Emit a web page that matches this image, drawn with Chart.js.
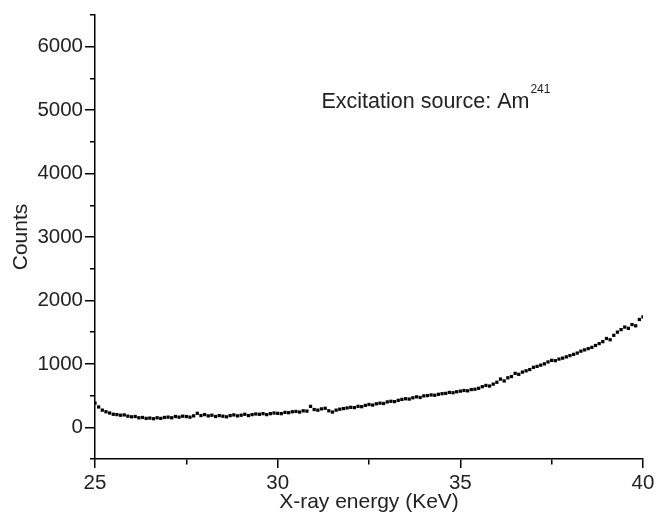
<!DOCTYPE html>
<html>
<head>
<meta charset="utf-8">
<script src="https://cdn.jsdelivr.net/npm/chart.js@4/dist/chart.umd.min.js"></script>
<style>
    html, body { margin: 0; padding: 0; background: #fff; }
    #wrap { width: 658px; height: 515px; }
</style>
</head>
<body>
<div id="wrap"><canvas id="SpectrumChart"></canvas></div>
<script>
// energy grid in keV, 0.1 keV per channel
const energies = [
    25.0, 25.1, 25.2, 25.3, 25.4, 25.5, 25.6, 25.7, 25.8, 25.9,
    26.0, 26.1, 26.2, 26.3, 26.4, 26.5, 26.6, 26.7, 26.8, 26.9,
    27.0, 27.1, 27.2, 27.3, 27.4, 27.5, 27.6, 27.7, 27.8, 27.9,
    28.0, 28.1, 28.2, 28.3, 28.4, 28.5, 28.6, 28.7, 28.8, 28.9,
    29.0, 29.1, 29.2, 29.3, 29.4, 29.5, 29.6, 29.7, 29.8, 29.9,
    30.0, 30.1, 30.2, 30.3, 30.4, 30.5, 30.6, 30.7, 30.8, 30.9,
    31.0, 31.1, 31.2, 31.3, 31.4, 31.5, 31.6, 31.7, 31.8, 31.9,
    32.0, 32.1, 32.2, 32.3, 32.4, 32.5, 32.6, 32.7, 32.8, 32.9,
    33.0, 33.1, 33.2, 33.3, 33.4, 33.5, 33.6, 33.7, 33.8, 33.9,
    34.0, 34.1, 34.2, 34.3, 34.4, 34.5, 34.6, 34.7, 34.8, 34.9,
    35.0, 35.1, 35.2, 35.3, 35.4, 35.5, 35.6, 35.7, 35.8, 35.9,
    36.0, 36.1, 36.2, 36.3, 36.4, 36.5, 36.6, 36.7, 36.8, 36.9,
    37.0, 37.1, 37.2, 37.3, 37.4, 37.5, 37.6, 37.7, 37.8, 37.9,
    38.0, 38.1, 38.2, 38.3, 38.4, 38.5, 38.6, 38.7, 38.8, 38.9,
    39.0, 39.1, 39.2, 39.3, 39.4, 39.5, 39.6, 39.7, 39.8, 39.9,
    40.0
];
const counts = [
    380, 320, 270, 245, 225, 205, 200, 190, 195, 175,
    165, 170, 150, 155, 140, 145, 135, 150, 140, 155,
    160, 150, 170, 160, 175, 170, 160, 180, 220, 185,
    200, 180, 190, 170, 185, 175, 165, 185, 195, 180,
    190, 205, 185, 200, 210, 205, 215, 200, 215, 225,
    220, 215, 235, 230, 245, 250, 240, 260, 255, 330,
    280, 270, 290, 300, 260, 240, 270, 285, 295, 305,
    315, 310, 330, 325, 345, 360, 350, 370, 380, 375,
    400, 410, 405, 425, 440, 450, 445, 465, 480, 470,
    495, 500, 510, 505, 520, 530, 535, 550, 545, 560,
    570, 580, 575, 595, 600, 615, 640, 660, 650, 680,
    710, 760, 730, 780, 800, 850, 835, 870, 890, 910,
    945, 960, 980, 1000, 1030, 1055, 1050, 1075, 1090, 1110,
    1130, 1150, 1170, 1200, 1220, 1240, 1260, 1290, 1320, 1350,
    1400, 1380, 1450, 1500, 1540, 1580, 1560, 1620, 1600, 1700,
    1740
];
const xTickLabels = [25, 30, 35, 40];
const yTickLabels = [0, 1000, 2000, 3000, 4000, 5000, 6000];
const noteText = "Excitation source: Am";
const noteSup = "241";

const FONT = "'Liberation Sans', Arial, Helvetica, sans-serif";

// text note in the upper part of the plot
const notePlugin = {
    id: 'note',
    afterDraw(chart) {
        const ctx = chart.ctx;
        const x = chart.scales.x.getPixelForValue(31.2);
        const y = chart.scales.y.getPixelForValue(5030);
        ctx.save();
        ctx.fillStyle = '#222';
        ctx.textBaseline = 'alphabetic';
        ctx.textAlign = 'left';
        ctx.font = "21.5px " + FONT;
        ctx.fillText(noteText, x, y);
        const w = ctx.measureText(noteText).width;
        ctx.font = "12px " + FONT;
        ctx.fillText(noteSup, x + w + 1, y - 15);
        ctx.restore();
    }
};

var ctx = document.getElementById('SpectrumChart');

var spectrumChart = new Chart(ctx, {
    type: 'scatter',
    data: {
        datasets: [{
            label: 'Counts',
            data: energies.map((e, i) => ({ x: e, y: counts[i] })),
            pointStyle: 'rect',
            pointRadius: 2.3,
            pointBorderWidth: 0,
            backgroundColor: '#000',
            borderColor: '#000',
        }]
    },
    options: {
        responsive: true,
        maintainAspectRatio: false,
        animation: false,
        layout: { padding: { top: 15, right: 15, left: 0, bottom: 0 } },
        plugins: {
            legend: { display: false },
            tooltip: { enabled: false },
        },
        scales: {
            x: {
                type: 'linear',
                min: 25,
                max: 40,
                afterFit: (scale) => { scale.height = 56; },
                afterBuildTicks: (scale) => {
                    const t = [];
                    for (let v = 25; v <= 40; v += 2.5) t.push({ value: v });
                    scale.ticks = t;
                },
                border: { display: true, color: '#000', width: 1.5 },
                grid: {
                    drawOnChartArea: false,
                    drawTicks: true,
                    tickLength: 9,
                    color: '#000',
                    lineWidth: 1.5,
                    tickBorderDash: (c) => xTickLabels.includes(c.tick.value) ? [] : [5, 100],
                },
                ticks: {
                    autoSkip: false,
                    maxRotation: 0,
                    padding: 3,
                    color: '#222',
                    font: { family: FONT, size: 20.5 },
                    callback: (v) => xTickLabels.includes(v) ? String(v) : '',
                },
                title: {
                    display: true,
                    text: 'X-ray energy (KeV)',
                    color: '#222',
                    font: { family: FONT, size: 21 },
                    padding: { top: 0, bottom: 0 },
                },
            },
            y: {
                type: 'linear',
                min: -500,
                max: 6500,
                afterFit: (scale) => { scale.width = 95; },
                afterBuildTicks: (scale) => {
                    const t = [];
                    for (let v = -500; v <= 6500; v += 500) t.push({ value: v });
                    scale.ticks = t;
                },
                border: { display: true, color: '#000', width: 1.5 },
                grid: {
                    drawOnChartArea: false,
                    drawTicks: true,
                    tickLength: 10,
                    color: '#000',
                    lineWidth: 1.5,
                    tickBorderDash: (c) => yTickLabels.includes(c.tick.value) ? [] : [0, 5, 5, 100],
                },
                ticks: {
                    autoSkip: false,
                    padding: 2,
                    color: '#222',
                    font: { family: FONT, size: 20.5 },
                    callback: (v) => yTickLabels.includes(v) ? String(v) : '',
                },
                title: {
                    display: true,
                    text: 'Counts',
                    color: '#222',
                    font: { family: FONT, size: 21 },
                    padding: { top: 9, bottom: 0 },
                },
            }
        }
    },
    plugins: [notePlugin]
});
</script>
</body>
</html>
